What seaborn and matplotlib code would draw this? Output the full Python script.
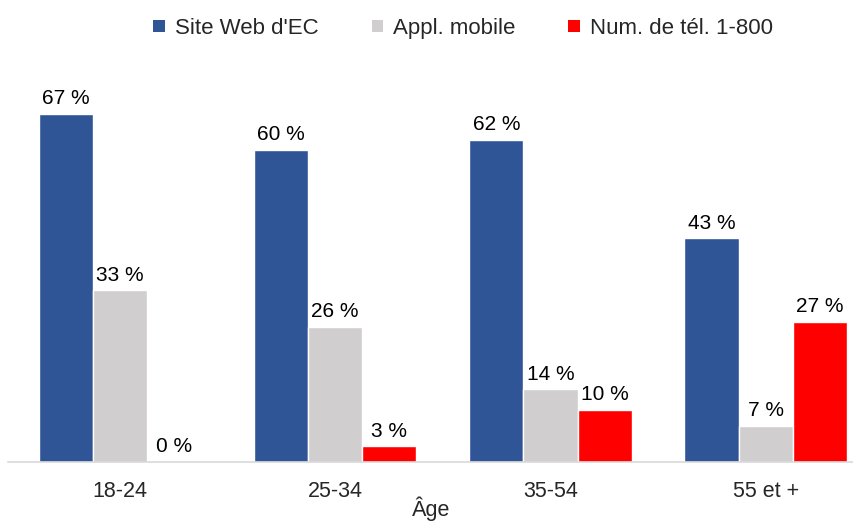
import pandas as pd
import matplotlib.pyplot as plt
import seaborn as sns

# data
ages = ["18-24", "25-34", "35-54", "55 et +"]
series = ["Site Web d'EC", "Appl. mobile", "Num. de tél. 1-800"]
site_web = [67, 60, 62, 43]
appli = [33, 26, 14, 7]
tel = [0, 3, 10, 27]
colors = ["#2F5597", "#D0CECE", "#FF0000"]

df = pd.DataFrame({
    "Âge": ages * 3,
    "Canal": [series[0]] * 4 + [series[1]] * 4 + [series[2]] * 4,
    "Valeur": site_web + appli + tel,
})

sns.set_style("white")
plt.rcParams["font.family"] = ["Liberation Sans", "DejaVu Sans"]

fig = plt.figure(figsize=(8.54, 5.22), dpi=100)
ax = fig.add_axes([8 / 854, 1 - 462 / 522, 1 - 8 / 854, (462 - 60) / 522])

sns.barplot(data=df, x="Âge", y="Valeur", hue="Canal", order=ages,
            hue_order=series, palette=colors, width=0.755, gap=0,
            saturation=1, ax=ax)

for cont in ax.containers:
    ax.bar_label(cont, labels=[f"{v:.0f} %" for v in cont.datavalues],
                 padding=4, fontsize=15, color="black")

ax.set_xlim(-0.52, 3.41)
ax.set_ylim(0, 77.3)
ax.set_yticks([])
ax.set_ylabel("")
ax.set_xlabel("Âge", fontsize=15.5, labelpad=-4)
ax.tick_params(axis="x", length=0, labelsize=15.5, pad=14)
for s in ["top", "right", "left"]:
    ax.spines[s].set_visible(False)
ax.spines["bottom"].set_color("#D9D9D9")
ax.spines["bottom"].set_linewidth(1.2)

leg = ax.legend(loc="upper center", bbox_to_anchor=((463 - 8) / 846, 1 + 62 / 402),
                ncol=3, frameon=False, fontsize=16, handlelength=0.5,
                handleheight=0.5, handletextpad=0.45, columnspacing=2.4)
for h in leg.legend_handles:
    h.set_linewidth(0)

fig.savefig("out.png", dpi=100)
